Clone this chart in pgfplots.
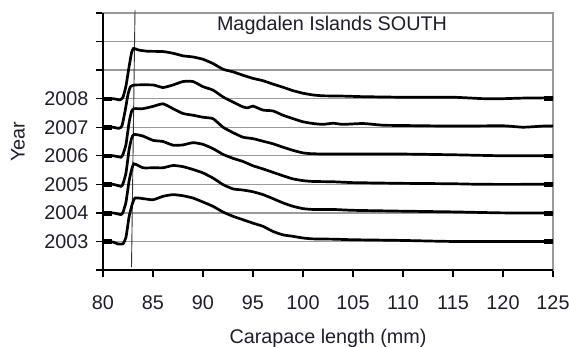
\documentclass[border=0pt]{standalone}
\usepackage{pgfplots}
\usepackage{pgfplotstable}
\pgfplotsset{compat=1.18}
\usepackage{fontspec}
\setmainfont{Liberation Sans}
\definecolor{txt}{HTML}{1E1E2A}
\definecolor{gridc}{HTML}{9A9A9A}

% Length-frequency profiles: each year's curve is drawn as a height above its baseline year
\pgfplotstableread{
x h
80 0
81 0
81.7 -0.04
82.0 0.05
82.3 0.45
82.6 1.1
82.85 1.6
83.05 1.76
83.6 1.70
84.5 1.66
86 1.65
87 1.59
88 1.50
89 1.46
90 1.38
91 1.23
92 1.03
93 0.94
94 0.82
95 0.71
96 0.63
97 0.51
98 0.40
99 0.28
100 0.19
101 0.13
102 0.10
104 0.09
106 0.07
110 0.05
115 0.05
118 0.00
120 0.00
122 0.02
125 0.03
}\yrH

\pgfplotstableread{
x h
80 0
81 0
81.6 -0.04
81.9 0.05
82.2 0.55
82.5 1.15
82.75 1.42
83.2 1.48
85 1.48
86 1.39
87 1.48
88 1.60
89 1.60
90 1.42
91 1.30
92 1.06
93 0.88
94 0.71
94.5 0.68
95 0.74
96 0.60
97 0.57
98 0.42
99 0.30
100 0.19
101 0.13
102 0.10
103 0.14
104 0.10
106 0.13
108 0.07
110 0.06
115 0.04
120 0.05
122 0.00
124 0.04
125 0.04
}\yrG

\pgfplotstableread{
x h
80 0
81 0
81.8 -0.05
82.0 0.05
82.3 0.40
82.6 1.15
82.85 1.55
83.1 1.65
84 1.65
85 1.73
86 1.82
87 1.65
88 1.48
89 1.42
90 1.35
91 1.30
92 1.00
93 0.81
94 0.65
95 0.60
96 0.51
97 0.42
98 0.30
99 0.19
100 0.10
101 0.07
103 0.06
110 0.06
115 0.035
120 0.00
125 0.00
}\yrF

\pgfplotstableread{
x h
80 0
81 0
81.8 -0.07
82.0 0.02
82.3 0.40
82.6 1.20
82.85 1.60
83.1 1.75
84 1.69
85 1.54
86 1.50
87 1.37
88 1.38
89 1.46
90 1.40
91 1.25
92 1.05
93 0.91
94 0.80
95 0.65
96 0.54
97 0.42
98 0.30
99 0.19
100 0.13
101 0.10
103 0.09
105 0.06
110 0.035
115 0.02
118 0.00
125 0.00
}\yrE

\pgfplotstableread{
x h
80 0
81 0
81.8 -0.06
82.0 0.02
82.3 0.38
82.6 1.10
82.85 1.50
83.1 1.72
84 1.58
85 1.58
86 1.58
87 1.66
88 1.62
89 1.52
90 1.40
91 1.22
92 0.99
93 0.84
94 0.80
95 0.74
96 0.64
97 0.50
98 0.35
99 0.23
100 0.15
101 0.12
103 0.12
105 0.09
110 0.06
115 0.035
120 0.00
125 0.00
}\yrD

\pgfplotstableread{
x h
80 0
81 -0.02
81.5 -0.09
82.0 -0.08
82.3 0.15
82.6 0.85
82.9 1.28
83.2 1.52
84 1.50
85 1.46
86 1.58
87 1.64
88 1.60
89 1.52
90 1.38
91 1.23
92 1.03
93 0.88
94 0.76
95 0.64
96 0.53
97 0.35
98 0.23
99 0.18
100 0.12
101 0.09
103 0.08
105 0.06
110 0.035
115 0.00
125 0.00
}\yrC

\begin{document}
\begin{tikzpicture}
\begin{axis}[
  name=ax,
  width=450pt, height=257pt, scale only axis,
  xmin=80, xmax=125, ymin=2002, ymax=2011,
  xtick={80,85,...,125},
  ytick={2002,2003,...,2011},
  yticklabels={,2003,2004,2005,2006,2007,2008,,,},
  ymajorgrids,
  major grid style={gridc, line width=1.4pt},
  axis line style={gridc, line width=1.4pt},
  tick align=outside, tick pos=left,
  major tick length=7pt,
  tick style={black, line width=1.3pt},
  /pgf/number format/assume math mode=true,
  ticklabel style={font=\fontsize{19.8}{22}\selectfont, text=txt},
  xticklabel style={yshift=-15pt},
  yticklabel style={xshift=-4pt},
  xlabel={Carapace length (mm)},
  ylabel={Year},
  label style={font=\fontsize{19.8}{22}\selectfont, text=txt},
  xlabel style={at={([yshift=-68pt]axis description cs:0.5,0)}, anchor=center},
  ylabel style={at={([xshift=-85pt]axis description cs:0,0.5)}, anchor=center},
  clip=false,
  curve/.style={black, line width=2.7pt, smooth, tension=0.3, no markers},
]
\draw[black, line width=1.3pt] (axis cs:80,2011) -- (axis cs:80,2002) -- (axis cs:125,2002);
\draw[black!80, line width=0.9pt] (axis cs:82.85,2002.1) -- (axis cs:83.2,2011.1);
\addplot[curve] table[x=x, y expr=\thisrow{h}+2003] {\yrC};
\addplot[curve] table[x=x, y expr=\thisrow{h}+2004] {\yrD};
\addplot[curve] table[x=x, y expr=\thisrow{h}+2005] {\yrE};
\addplot[curve] table[x=x, y expr=\thisrow{h}+2006] {\yrF};
\addplot[curve] table[x=x, y expr=\thisrow{h}+2007] {\yrG};
\addplot[curve] table[x=x, y expr=\thisrow{h}+2008] {\yrH};
% end-point markers of each profile
\addplot[only marks, mark=square*, mark size=1.9pt, mark options={xscale=2.2}, black] coordinates {
  (80.45,2003) (80.45,2004) (80.45,2005) (80.45,2006) (80.45,2007) (80.45,2008)
  (124.55,2003) (124.55,2004) (124.55,2005) (124.55,2006) (124.55,2008.03)
};
\node[font=\fontsize{19.8}{22}\selectfont, text=txt] at (axis cs:102.9,2010.58) {Magdalen Islands SOUTH};
\end{axis}
\pgfresetboundingbox
\path ([xshift=-103pt,yshift=-77pt]ax.south west) rectangle ([xshift=16pt,yshift=13pt]ax.north east);
\end{tikzpicture}
\end{document}
